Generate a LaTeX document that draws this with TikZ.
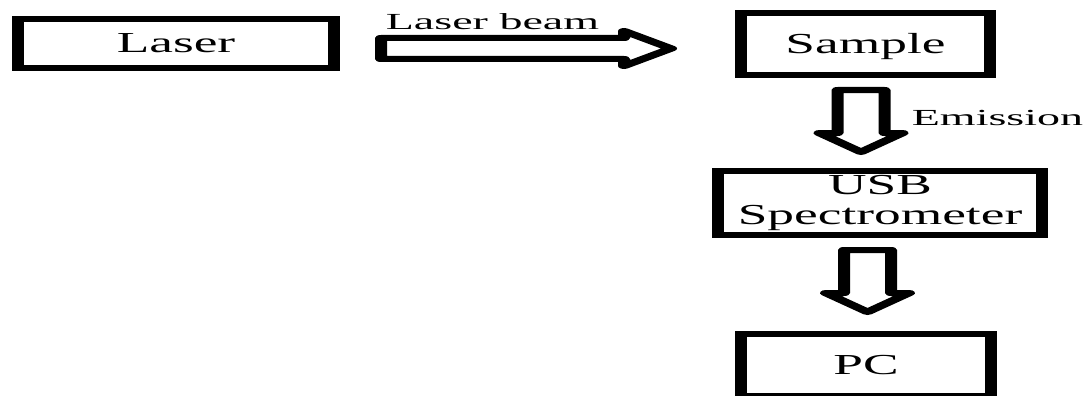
\documentclass[tikz,border=0pt]{standalone}
\usepackage{fontspec}
\setmainfont{Liberation Serif}
\newfontfamily\boxfont[FakeStretch=0.92]{Liberation Serif}
\tikzset{
  box/.style={draw=black, line width=6pt, fill=white, inner sep=0pt,
    font=\boxfont\fontsize{29}{30}\selectfont, align=center},
  onebox/.style={box, text height=19pt, text depth=0pt},
  lbl/.style={font=\fontsize{23}{26}\selectfont, inner sep=0pt, anchor=base},
  blk/.style={draw=black, line width=6pt, fill=white, line join=round},
  rarrow/.pic={
    \draw[blk] (0,-10.5) -- (243,-10.5) -- (243,-17.5) -- (290,0)
      -- (243,17.5) -- (243,10.5) -- (0,10.5) -- cycle;
    \coordinate (-tail) at (0,0);
    \coordinate (-tip) at (290,0);
  },
  darrow/.pic={
    \draw[blk] (-23.5,0) -- (-23.5,43) -- (-41.5,43) -- (0,62)
      -- (41.5,43) -- (23.5,43) -- (23.5,0) -- cycle;
    \coordinate (-tail) at (0,0);
    \coordinate (-tip) at (0,62);
  }
}
\begin{document}
\begin{tikzpicture}[x=0.5pt, y=-1pt]
  \fill[white] (0,0) rectangle (2180,396);
  \useasboundingbox (0,0) rectangle (2180,396);
  \begin{scope}[transform canvas={xscale=2}]
    % boxes (x given in final pixel units)
    \node[onebox, minimum width=158pt, minimum height=49pt] (laser) at (176,43.5) {Laser};
    \node[onebox, minimum width=124.5pt, minimum height=62pt] (sample) at (865.5,44) {Sample};
    \node[box, minimum width=162pt, minimum height=64pt] (usb) at (880,203) {USB\\Spectrometer};
    \node[onebox, minimum width=125pt, minimum height=62pt] (pc) at (866,365) {PC};
    % block arrows
    \pic (beam) at (381,48.5) {rarrow};
    \pic (emis) at (861,90) {darrow};
    \pic (data) at (867.5,250) {darrow};
    % labels
    \node[lbl] (lbeam) at (492.5,30) {Laser beam};
    \node[lbl] (lemis) at (997.5,125) {Emission};
  \end{scope}
\end{tikzpicture}
\end{document}
